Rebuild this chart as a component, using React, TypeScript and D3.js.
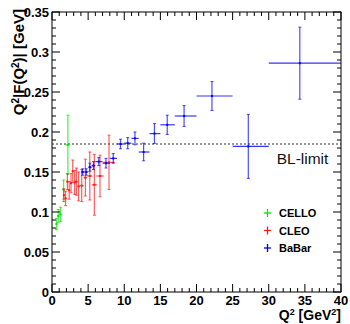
import * as d3 from "d3"

// CELLO
const celloQ2 = [0.62, 0.86, 1.17, 1.61, 2.2]
const celloF = [0.085, 0.095, 0.097, 0.128, 0.184]
const celloEx = [0.1, 0.12, 0.17, 0.2, 0.3]
const celloEy = [0.007, 0.008, 0.009, 0.012, 0.037]

// CLEO
const cleoQ2 = [1.64, 1.88, 2.13, 2.38, 2.63, 2.87, 3.13, 3.38, 3.68, 4.11, 4.62, 5.23, 5.86, 6.64, 7.89]
const cleoF = [0.121, 0.117, 0.138, 0.127, 0.136, 0.151, 0.137, 0.138, 0.132, 0.133, 0.143, 0.145, 0.134, 0.145, 0.162]
const cleoEx = [0.12, 0.12, 0.12, 0.12, 0.12, 0.12, 0.12, 0.12, 0.17, 0.25, 0.25, 0.35, 0.35, 0.5, 0.8]
const cleoEy = [0.008, 0.009, 0.010, 0.011, 0.012, 0.014, 0.015, 0.017, 0.018, 0.020, 0.023, 0.03, 0.038, 0.026, 0.034]

// BaBar
const babarQ2 = [4.24, 4.74, 5.24, 5.74, 6.47, 7.47, 8.48, 9.48, 10.48, 11.48, 12.68, 14.18, 15.95, 18.28, 22.14, 27.17, 34.3]
const babarLo = [4, 4.5, 5, 5.5, 6, 7, 8, 9, 10, 11, 12, 13.5, 15, 17, 20, 25, 30]
const babarHi = [4.5, 5, 5.5, 6, 7, 8, 9, 10, 11, 12, 13.5, 15, 17, 20, 25, 30, 40]
const babarF = [0.150, 0.150, 0.156, 0.158, 0.163, 0.161, 0.167, 0.185, 0.186, 0.192, 0.175, 0.198, 0.209, 0.220, 0.245, 0.182, 0.286]
const babarEy = [0.004, 0.004, 0.005, 0.005, 0.005, 0.006, 0.006, 0.006, 0.007, 0.008, 0.011, 0.0125, 0.012, 0.013, 0.018, 0.04, 0.045]

const blLimit = 0.185
const legendLabels = ["CELLO", "CLEO", "BaBar"]
const legendColors = ["#00e600", "#ff1a1a", "#0000ff"]

type Pt = { x: number; y: number; xl: number; xh: number; ey: number }

export default function App() {
  const width = 350
  const height = 324
  const frame = { left: 52, right: 341, top: 12, bottom: 292 }

  const x = d3.scaleLinear().domain([0, 40]).range([frame.left, frame.right])
  const y = d3.scaleLinear().domain([0, 0.35]).range([frame.bottom, frame.top])

  const font = "'Liberation Sans', Arial, Helvetica, sans-serif"

  const cello: Pt[] = celloQ2.map((q, i) => ({ x: q, y: celloF[i], xl: q - celloEx[i], xh: q + celloEx[i], ey: celloEy[i] }))
  const cleo: Pt[] = cleoQ2.map((q, i) => ({ x: q, y: cleoF[i], xl: q - cleoEx[i], xh: q + cleoEx[i], ey: cleoEy[i] }))
  const babar: Pt[] = babarQ2.map((q, i) => ({ x: q, y: babarF[i], xl: babarLo[i], xh: babarHi[i], ey: babarEy[i] }))

  const series = [
    { data: cello, color: legendColors[0] },
    { data: cleo, color: legendColors[1] },
    { data: babar, color: legendColors[2] },
  ]

  const xMajor = x.ticks(8)
  const xMinor = d3.range(0, 40.01, 1)
  const yMajor = y.ticks(7)
  const yMinor = d3.range(0, 0.3501, 0.01)

  const major = 8
  const minor = 4

  const cap = 1.5

  return (
    <svg width={width} height={height} style={{ position: "absolute", left: 0, top: 0, background: "#fff" }}>
      {/* BL-limit */}
      <line x1={frame.left} x2={frame.right} y1={y(blLimit)} y2={y(blLimit)} stroke="#333" strokeWidth={1} strokeDasharray="2,2" />
      <text x={x(31.1)} y={y(blLimit) + 20} fontFamily={font} fontSize={15.5} fill="#111">BL-limit</text>

      {/* data */}
      {series.map((s, si) => (
        <g key={si} stroke={s.color}>
          {s.data.map((d, i) => (
            <g key={i}>
              <line x1={x(d.xl)} x2={Math.min(x(d.xh), frame.right)} y1={y(d.y)} y2={y(d.y)} strokeWidth={1.2} strokeOpacity={0.8} />
              <line x1={x(d.x)} x2={x(d.x)} y1={y(d.y - d.ey)} y2={y(d.y + d.ey)} strokeWidth={1.2} strokeOpacity={0.7} />
              <line x1={x(d.x) - cap} x2={x(d.x) + cap} y1={y(d.y - d.ey)} y2={y(d.y - d.ey)} strokeWidth={1} strokeOpacity={0.7} />
              <line x1={x(d.x) - cap} x2={x(d.x) + cap} y1={y(d.y + d.ey)} y2={y(d.y + d.ey)} strokeWidth={1} strokeOpacity={0.7} />
              <rect x={x(d.x) - 1} y={y(d.y) - 1} width={2} height={2} fill={s.color} stroke="none" />
            </g>
          ))}
        </g>
      ))}

      {/* frame */}
      <rect x={frame.left} y={frame.top} width={frame.right - frame.left} height={frame.bottom - frame.top} fill="none" stroke="#000" strokeWidth={1} />

      {/* ticks */}
      <g stroke="#000" strokeWidth={1}>
        {xMinor.map((t) => {
          const len = t % 5 === 0 ? major : minor
          return (
            <g key={"x" + t}>
              <line x1={x(t)} x2={x(t)} y1={frame.bottom} y2={frame.bottom - len} />
              <line x1={x(t)} x2={x(t)} y1={frame.top} y2={frame.top + len} />
            </g>
          )
        })}
        {yMinor.map((t, i) => {
          const len = i % 5 === 0 ? major : minor
          return (
            <g key={"y" + i}>
              <line x1={frame.left} x2={frame.left + len} y1={y(t)} y2={y(t)} />
              <line x1={frame.right} x2={frame.right - len} y1={y(t)} y2={y(t)} />
            </g>
          )
        })}
      </g>

      {/* tick labels */}
      <g fontFamily={font} fontWeight="bold" fontSize={13} fill="#000">
        {xMajor.map((t) => (
          <text key={"xl" + t} x={x(t)} y={305} textAnchor="middle">{t}</text>
        ))}
        {yMajor.map((t) => (
          <text key={"yl" + t} x={frame.left - 3} y={y(t) + 4.5} textAnchor="end">{d3.format("~g")(t)}</text>
        ))}
      </g>

      {/* axis titles */}
      <text x={frame.right} y={320} textAnchor="end" fontFamily={font} fontWeight="bold" fontSize={14}>
        Q<tspan dy={-5} fontSize={9}>2</tspan><tspan dy={5}> [GeV</tspan><tspan dy={-5} fontSize={9}>2</tspan><tspan dy={5}>]</tspan>
      </text>
      <text transform={`translate(24,${frame.top - 3}) rotate(-90)`} textAnchor="end" fontFamily={font} fontWeight="bold" fontSize={15}>
        Q<tspan dy={-5.5} fontSize={10}>2</tspan><tspan dy={5.5}>|F(Q</tspan><tspan dy={-5.5} fontSize={10}>2</tspan><tspan dy={5.5}>)| [GeV]</tspan>
      </text>

      {/* legend */}
      {legendLabels.map((l, i) => {
        const ly = 213 + i * 17.5
        return (
          <g key={l}>
            <line x1={264} x2={271} y1={ly} y2={ly} stroke={legendColors[i]} strokeWidth={1.3} />
            <line x1={267.5} x2={267.5} y1={ly - 4} y2={ly + 4} stroke={legendColors[i]} strokeWidth={1.3} />
            <text x={279} y={ly + 4} fontFamily={font} fontWeight="bold" fontSize={11}>{l}</text>
          </g>
        )
      })}
    </svg>
  )
}
